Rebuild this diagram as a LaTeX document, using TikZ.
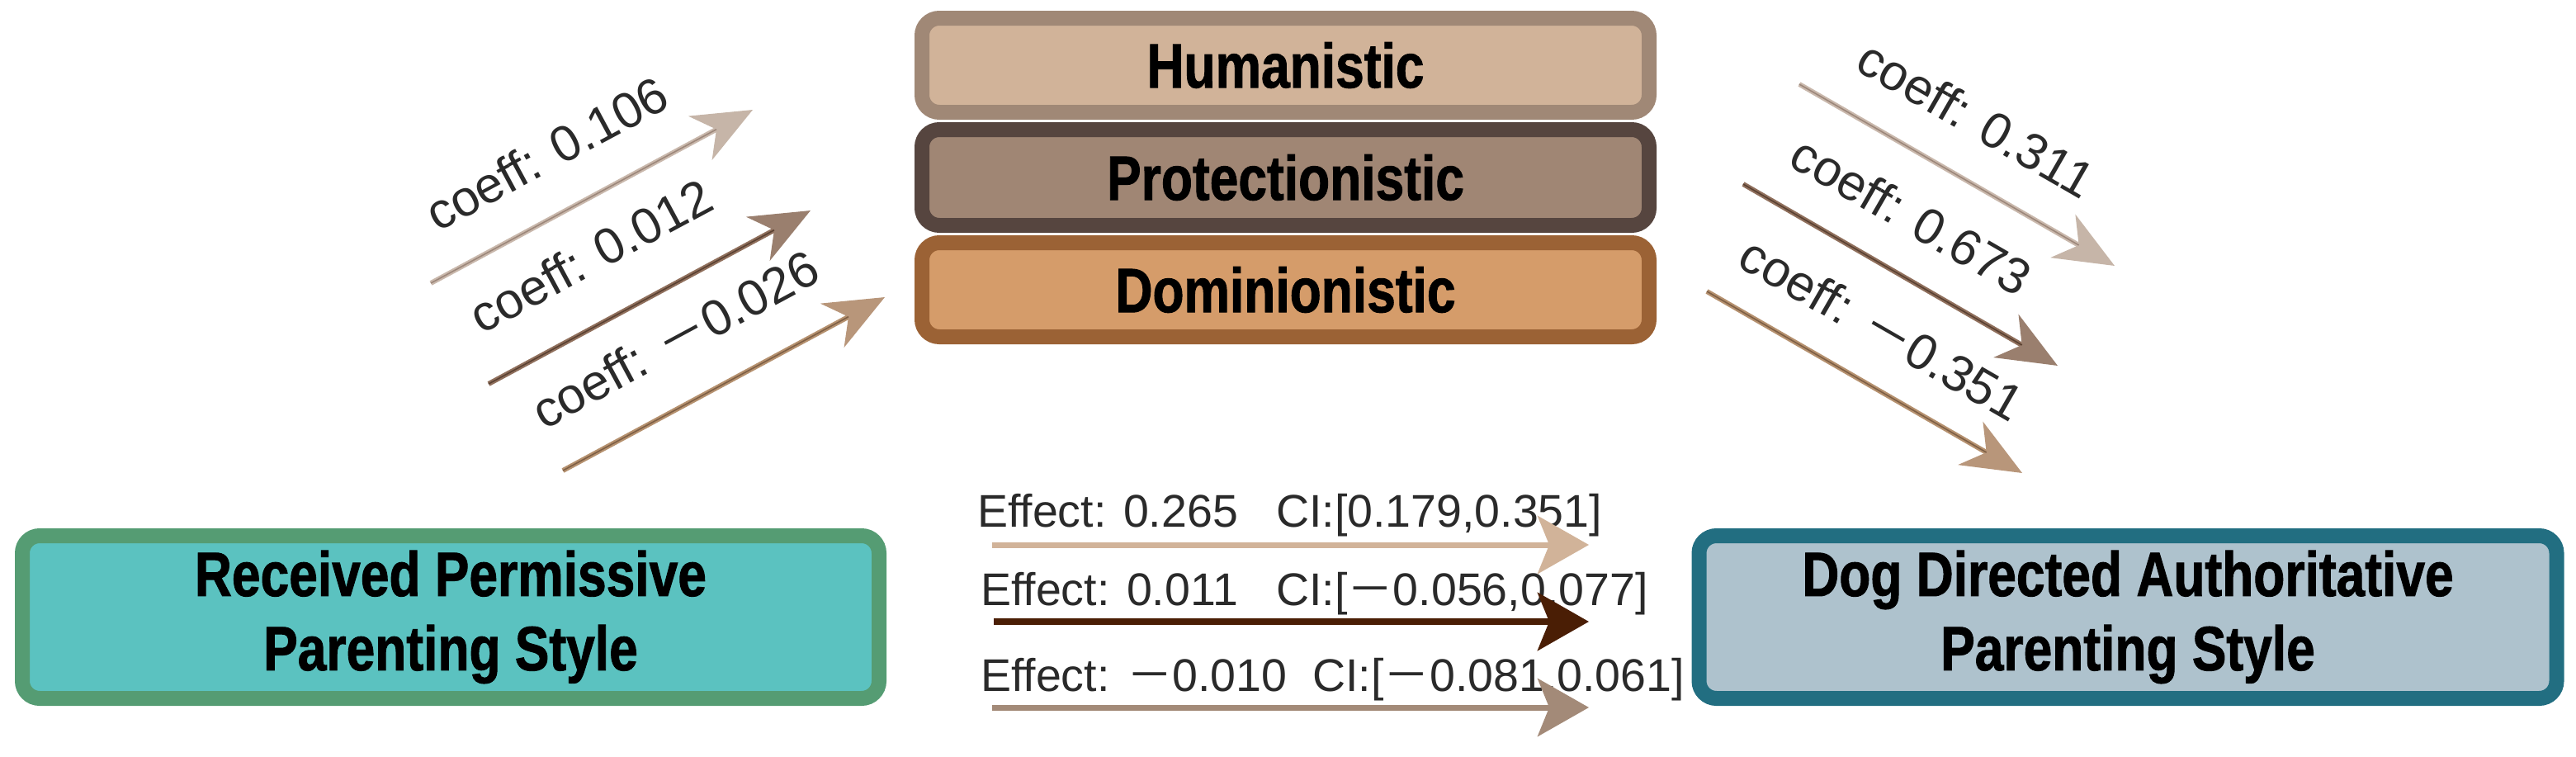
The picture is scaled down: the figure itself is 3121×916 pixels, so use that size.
\documentclass[tikz,border=0pt]{standalone}
\usepackage{fontspec}
\setmainfont{Liberation Sans}
\newfontfamily\headfont{Liberation Sans}[FakeStretch=0.82,FakeBold=1.2]
\newfontfamily\cjk{Noto Sans CJK SC}
\newcommand\fwm{{\cjk －}}
\usetikzlibrary{arrows.meta}
\definecolor{humB}{HTML}{A08876}
\definecolor{humF}{HTML}{D1B399}
\definecolor{proB}{HTML}{56453F}
\definecolor{proF}{HTML}{A08674}
\definecolor{domB}{HTML}{9B6235}
\definecolor{domF}{HTML}{D59C6A}
\definecolor{recB}{HTML}{559C73}
\definecolor{recF}{HTML}{5BC2C0}
\definecolor{dogB}{HTML}{226E81}
\definecolor{dogF}{HTML}{AEC2CD}
\definecolor{txt}{HTML}{2A2A2A}
\definecolor{effA}{HTML}{D1B399}
\definecolor{effB}{HTML}{4A1E05}
\definecolor{effC}{HTML}{A38A78}
\definecolor{tubeAo}{HTML}{C9B8AC}
\definecolor{tubeAi}{HTML}{9C877A}
\definecolor{tubeBo}{HTML}{8F6F5C}
\definecolor{tubeBi}{HTML}{5A4132}
\definecolor{tubeCo}{HTML}{B5916F}
\definecolor{tubeCi}{HTML}{7E5F45}
\definecolor{headA}{HTML}{C6B5A8}
\definecolor{headB}{HTML}{9A7F6E}
\definecolor{headC}{HTML}{B8967A}
\begin{document}
\begin{tikzpicture}[x=1pt,y=-1pt,
  box/.style={rounded corners=21pt, line width=18pt, align=center, inner sep=0pt,
    font=\headfont\bfseries\fontsize{76}{90}\selectfont},
  midbox/.style={box, minimum width=881pt, minimum height=114pt},
  bigbox/.style={box, minimum width=1038pt, minimum height=197pt},
  efflab/.style={text=txt, inner sep=0pt, anchor=base west, font=\fontsize{55.5}{60}\selectfont},
  coefflab/.style={text=txt, inner sep=0pt, font=\fontsize{61}{66}\selectfont},
  effarrow/.style={-{Stealth[length=62pt,width=70pt,inset=14pt]}},
  tube/.style={line width=6pt, -{Stealth[length=72pt,width=60pt,inset=22pt,fill=#1,color=#1]}},
  stripe/.style={line width=1.6pt, shorten >=50pt}
]
\useasboundingbox (0,0) rectangle (3121,916);

% mediator boxes
\node[midbox, draw=humB, fill=humF] (hum) at (1557.5,79) {Humanistic};
\node[midbox, draw=proB, fill=proF, minimum height=116pt] (pro) at (1557.5,215) {Protectionistic};
\node[midbox, draw=domB, fill=domF] (dom) at (1557.5,351) {Dominionistic};

% main boxes
\node[bigbox, draw=recB, fill=recF] (rec) at (546,747.5) {Received Permissive\\Parenting Style};
\node[bigbox, draw=dogB, fill=dogF, minimum width=1039pt] (dog) at (2578,747.5) {Dog Directed Authoritative\\Parenting Style};

% horizontal effect arrows
\coordinate (e1s) at (1202,660); \coordinate (e1e) at (1925,660);
\coordinate (e2s) at (1204,753); \coordinate (e2e) at (1925,753);
\coordinate (e3s) at (1202,857); \coordinate (e3e) at (1925,857);
\node[efflab] (l1) at ([xshift=-18pt,yshift=22pt]e1s) {Effect: 0.265~~~CI:[0.179,0.351]};
\node[efflab] (l2) at ([xshift=-16pt,yshift=20pt]e2s) {Effect: 0.011~~~CI:[\fwm0.056,0.077]};
\node[efflab] (l3) at ([xshift=-14pt,yshift=20pt]e3s) {Effect: \fwm0.010~~CI:[\fwm0.081,0.061]};
\draw[effarrow, draw=effA, line width=7pt] (e1s) -- (e1e);
\draw[effarrow, draw=effB, line width=8.5pt] (e2s) -- (e2e);
\draw[effarrow, draw=effC, line width=7pt] (e3s) -- (e3e);

% left diagonal arrows
\coordinate (a1) at (522,343);  \coordinate (a2) at (912,133);
\coordinate (b1) at (592,465);  \coordinate (b2) at (982,255);
\coordinate (c1) at (682,570);  \coordinate (c2) at (1072,360);
\draw[tube=headA, draw=tubeAo] (a1) -- node[coefflab, sloped, pos=0.075, above=50pt, anchor=base west] (ta) {coeff: 0.106} (a2);
\draw[stripe, draw=tubeAi] (a1) -- (a2);
\draw[tube=headB, draw=tubeBo] (b1) -- node[coefflab, sloped, pos=0.04, above=56pt, anchor=base west] (tb) {coeff: 0.012} (b2);
\draw[stripe, draw=tubeBi] (b1) -- (b2);
\draw[tube=headC, draw=tubeCo] (c1) -- node[coefflab, sloped, pos=0.0, above=54pt, anchor=base west] (tc) {coeff: \fwm0.026} (c2);
\draw[stripe, draw=tubeCi] (c1) -- (c2);

% right diagonal arrows
\coordinate (d1) at (2180,102); \coordinate (d2) at (2562,322);
\coordinate (f1) at (2112,223); \coordinate (f2) at (2493,443);
\coordinate (g1) at (2068,353); \coordinate (g2) at (2450,573);
\draw[tube=headA, draw=tubeAo] (d1) -- node[coefflab, sloped, pos=0.1, above=49pt, anchor=base west] (td) {coeff: 0.311} (d2);
\draw[stripe, draw=tubeAi] (d1) -- (d2);
\draw[tube=headB, draw=tubeBo] (f1) -- node[coefflab, sloped, pos=0.07, above=47pt, anchor=base west] (tf) {coeff: 0.673} (f2);
\draw[stripe, draw=tubeBi] (f1) -- (f2);
\draw[tube=headC, draw=tubeCo] (g1) -- node[coefflab, sloped, pos=0.025, above=45pt, anchor=base west] (tg) {coeff: \fwm0.351} (g2);
\draw[stripe, draw=tubeCi] (g1) -- (g2);
\end{tikzpicture}
\end{document}
